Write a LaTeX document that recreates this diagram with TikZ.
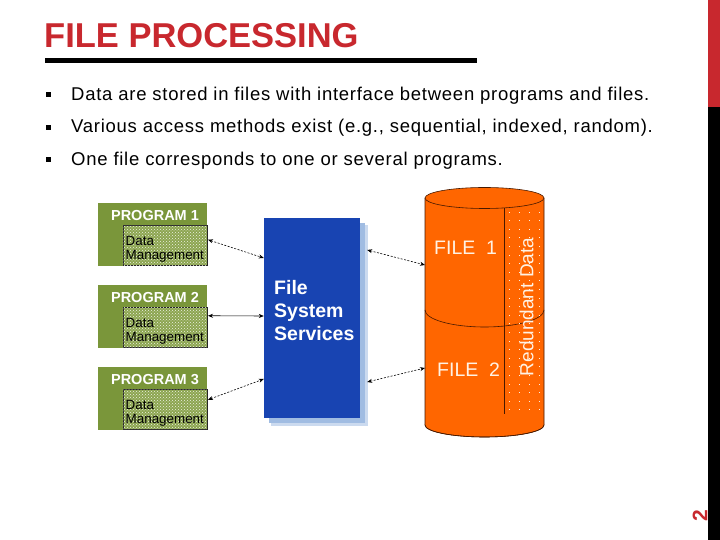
\documentclass[tikz,border=0pt]{standalone}
\usepackage{fontspec}
\setmainfont{Liberation Sans}
\newfontfamily\bulletfamily[LetterSpace=4]{Liberation Sans}
\usetikzlibrary{arrows.meta,patterns}
\definecolor{titlered}{RGB}{200,40,46}
\definecolor{pgreen}{RGB}{122,150,58}
\definecolor{dmgreen}{RGB}{140,165,80}
\definecolor{fblue}{RGB}{24,68,178}
\definecolor{fshadow}{RGB}{160,188,226}
\definecolor{forange}{RGB}{255,102,0}
\definecolor{cylline}{RGB}{70,25,0}
\definecolor{ftext}{RGB}{255,242,228}
\begin{document}
\begin{tikzpicture}[x=1pt,y=1pt,
  txt/.style={inner sep=0pt, anchor=base west},
  progbox/.style={fill=pgreen, minimum width=109pt, minimum height=63pt, inner sep=0pt, anchor=north west},
  dmbox/.style={fill=dmgreen, draw=black!85, line width=0.5pt, minimum width=84pt, minimum height=40pt, inner sep=0pt, anchor=south east,
    postaction={pattern=crosshatch dots, pattern color=white!85!dmgreen}},
  tip/.style={{Stealth[length=5pt,width=4pt]}-{Stealth[length=5pt,width=4pt]}},
  conn/.style={tip, line width=0.6pt},
  dconn/.style={conn, dash pattern=on 2pt off 1.5pt},
  bullettext/.style={txt, font=\bulletfamily\fontsize{18.5}{20}\selectfont},
]
\useasboundingbox (0,0) rectangle (720,540);
\fill[white] (0,0) rectangle (720,540);

% right edge bars
\fill[titlered] (708,433) rectangle (720,540);
\fill[black] (708,0) rectangle (720,433);

% title
\node[txt, text=titlered, font=\bfseries\fontsize{34.5}{36}\selectfont] (title) at (44,492) {FILE PROCESSING};
\draw[line width=5pt] (45,479.5) -- (477,479.5);

% bullets
\fill (45.5,442.5) rectangle +(5,5);
\fill (45.5,410) rectangle +(5,5);
\fill (45.5,377.5) rectangle +(5,5);
\node[bullettext] (b1) at (71,439.5) {Data are stored in files with interface between programs and files.};
\node[bullettext] (b2) at (71,407) {Various access methods exist (e.g., sequential, indexed, random).};
\node[bullettext] (b3) at (71,374) {One file corresponds to one or several programs.};

% programs
\foreach \i/\d in {1/0,2/82,3/164}{
  \node[progbox] (p\i) at (98,337-\d) {};
  \node[dmbox] (dm\i) at (207,274-\d) {};
  \node[inner sep=0pt, anchor=base, text=white, font=\bfseries\fontsize{14.5}{16}\selectfont] (pt\i) at (155,319-\d) {PROGRAM \i};
  \node[txt, font=\fontsize{13.4}{15}\selectfont] (dt\i) at (125.5,294-\d) {Data};
  \node[txt, font=\fontsize{13.4}{15}\selectfont] (mt\i) at (125.5,280-\d) {Management};
}

% file system services
\fill[fshadow!55] (271,114) rectangle (368,315);
\fill[fshadow] (269,117) rectangle (365,317);
\node[fill=fblue, minimum width=96pt, minimum height=200pt, inner sep=0pt] (fss) at (312,222) {};
\node[txt, text=white, align=left, font=\bfseries\fontsize{19.5}{23}\selectfont] (fsst) at (274,199) {File\\System\\Services};

% cylinder
\fill[forange] (425,342) -- (425,115) arc[start angle=180,end angle=360,x radius=59.5,y radius=12] -- (544,342) -- cycle;
\draw[cylline, line width=0.6pt, fill=forange] (484.5,115) ellipse [x radius=59.5, y radius=12];
\fill[forange] (425.3,342) rectangle (543.7,115);
\draw[cylline, line width=0.6pt] (425,342) -- (425,115) arc[start angle=180,end angle=360,x radius=59.5,y radius=12] -- (544,342);
\draw[cylline, line width=0.6pt, fill=forange] (484.5,342) ellipse [x radius=59.5, y radius=10.5];
\draw[cylline, line width=0.6pt] (425,230) arc[start angle=180,end angle=360,x radius=59.5,y radius=17];
\foreach \x in {509,519,529,539}
  \draw[ftext, line width=0.5pt, dash pattern=on 0.6pt off 8pt] (\x,130) -- (\x,329);
\draw[cylline, line width=0.6pt] (504,332) -- (504,126.3);
\node[txt, text=ftext, font=\fontsize{19.5}{21}\selectfont] (file1) at (434,285) {FILE\ \ 1};
\node[txt, text=ftext, font=\fontsize{19.5}{21}\selectfont] (file2) at (437,163) {FILE\ \ 2};
\node[rotate=90, inner sep=0pt, text=ftext, font=\fontsize{19}{21}\selectfont] (redund) at (526.5,233) {Redundant Data};
\coordinate (c1) at (425,275);
\coordinate (c2) at (425,172);

% connectors
\draw[dconn] ([xshift=1pt,yshift=6pt]dm1.east) -- ([yshift=60pt]fss.west);
\draw[conn] ([xshift=1pt,yshift=12pt]dm2.east) -- ([yshift=2pt]fss.west);
\draw[dconn] ([xshift=1pt,yshift=10pt]dm3.east) -- ([yshift=-61pt]fss.west);
\draw[dconn] ([xshift=7pt,yshift=68pt]fss.east) -- (c1);
\draw[dconn] ([xshift=7pt,yshift=-64pt]fss.east) -- (c2);

% page number
\node[rotate=90, inner sep=0pt, text=titlered, font=\bfseries\fontsize{21}{22}\selectfont] (pg) at (700,24) {2};
\end{tikzpicture}
\end{document}
